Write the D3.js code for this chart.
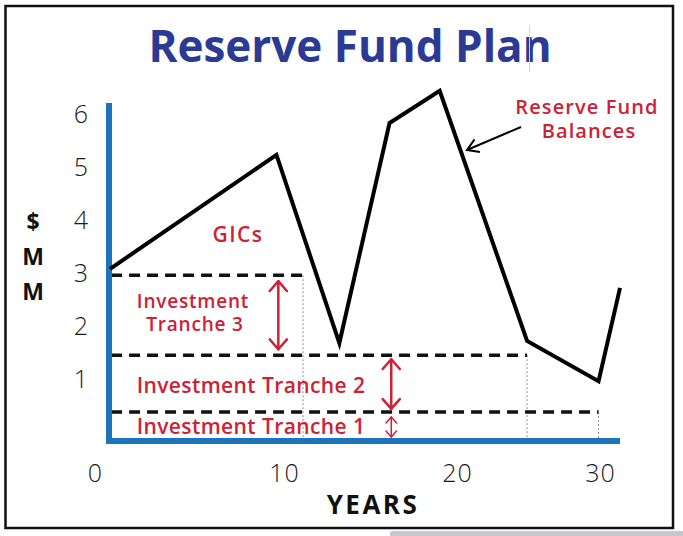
<!DOCTYPE html>
<html>
<head>
<meta charset="utf-8">
<script src="https://cdn.jsdelivr.net/npm/d3@7/dist/d3.min.js"></script>
<style>
  html, body { margin: 0; padding: 0; background: #fff; }
  svg { display: block; }
</style>
</head>
<body>
<div id="chart"></div>
<script>
// Chart values.
const xTicks = [0, 10, 20, 30];
const yTicks = [1, 2, 3, 4, 5, 6];
const years = [0.8, 9.6, 13.2, 16.1, 19.0, 24.9, 29.9, 31.4];
const balances = [3.06, 5.21, 1.66, 5.81, 6.42, 1.70, 0.94, 2.70];
const trancheNames = ['Investment Tranche 1', 'Investment Tranche 2', 'Investment Tranche 3'];
const trancheLevels = [0.36, 1.43, 2.94];
const trancheEnds = [29.9, 24.9, 11.1];
const trancheStart = 0.85;
const arrowYears = [16.2, 16.2, 9.7];

const width = 683, height = 536;
const blue = '#1c75bc', red = '#cc2236', navy = '#2b3a93';
const bodyFont = '"Open Sans", "Noto Sans", sans-serif';

// The year axis in the picture is not evenly spaced, so use a piecewise scale.
const x = d3.scaleLinear().domain(xTicks).range([95, 284, 457, 600]);
const y = d3.scaleLinear().domain([0, 6]).range([431, 113]);
const baseY = 441;

const svg = d3.select('#chart').append('svg')
  .attr('width', width)
  .attr('height', height);

// Outer frame and the scrollbar-ish strip at the bottom.
svg.append('rect')
  .attr('x', 5.5).attr('y', 6).attr('width', 667.5).attr('height', 522)
  .attr('fill', 'none').attr('stroke', '#111').attr('stroke-width', 2.5);
svg.append('rect')
  .attr('x', 390).attr('y', 531).attr('width', 300).attr('height', 6).attr('rx', 3)
  .attr('fill', '#c6c6cb');

svg.append('text')
  .attr('x', 350).attr('y', 62)
  .attr('text-anchor', 'middle')
  .attr('font-family', bodyFont)
  .attr('font-weight', 700)
  .attr('font-size', 44)
  .attr('fill', navy)
  .text('Reserve Fund Plan');
svg.append('line')
  .attr('x1', 529.5).attr('x2', 529.5).attr('y1', 25).attr('y2', 72)
  .attr('stroke', '#d4d4d4').attr('stroke-width', 1);

// Tick labels via d3 axes, with the domain path and tick marks hidden.
const xAxis = svg.append('g')
  .attr('transform', 'translate(0,482)')
  .call(d3.axisBottom(x).tickValues(xTicks).tickSize(0).tickPadding(0).tickFormat(d3.format('d')));
const yAxis = svg.append('g')
  .attr('transform', 'translate(81,0)')
  .call(d3.axisLeft(y).tickValues(yTicks).tickSize(0).tickPadding(0).tickFormat(d3.format('d')));
[xAxis, yAxis].forEach(g => {
  g.select('.domain').remove();
  g.selectAll('text')
    .attr('font-family', bodyFont)
    .attr('font-size', 25)
    .attr('font-weight', 300)
    .attr('fill', '#1a1a1a');
});
xAxis.selectAll('text').attr('dy', 0).attr('letter-spacing', 1);
yAxis.selectAll('text').attr('text-anchor', 'middle').attr('dy', '0.36em');

// Dotted guides dropping from each tranche end to the axis.
svg.selectAll('line.guide')
  .data(trancheLevels)
  .join('line')
  .attr('class', 'guide')
  .attr('x1', (d, i) => x(trancheEnds[i])).attr('x2', (d, i) => x(trancheEnds[i]))
  .attr('y1', d => y(d)).attr('y2', baseY)
  .attr('stroke', '#8a8a8a').attr('stroke-width', 1).attr('stroke-dasharray', '2,2');

// Dashed tranche boundaries.
svg.selectAll('line.tranche')
  .data(trancheLevels)
  .join('line')
  .attr('class', 'tranche')
  .attr('x1', x(trancheStart))
  .attr('x2', (d, i) => x(trancheEnds[i]))
  .attr('y1', d => y(d)).attr('y2', d => y(d))
  .attr('stroke', '#111').attr('stroke-width', 3.5).attr('stroke-dasharray', '11,7');

// Blue axes.
svg.append('line')
  .attr('x1', 109).attr('x2', 109).attr('y1', 103).attr('y2', baseY + 3)
  .attr('stroke', blue).attr('stroke-width', 6);
svg.append('line')
  .attr('x1', 106).attr('x2', 620).attr('y1', baseY).attr('y2', baseY)
  .attr('stroke', blue).attr('stroke-width', 6);

// Reserve fund balance line.
const line = d3.line().x(d => x(d[0])).y(d => y(d[1]));
svg.append('path')
  .datum(d3.zip(years, balances))
  .attr('d', line)
  .attr('fill', 'none')
  .attr('stroke', '#000')
  .attr('stroke-width', 4)
  .attr('stroke-linejoin', 'miter');

// Open V arrowhead pointing from (fx,fy) to tip (tx,ty).
function headPath(tx, ty, fx, fy, len, spread) {
  const a = Math.atan2(ty - fy, tx - fx);
  const p1 = [tx - len * Math.cos(a - spread), ty - len * Math.sin(a - spread)];
  const p2 = [tx - len * Math.cos(a + spread), ty - len * Math.sin(a + spread)];
  return `M${p1}L${tx},${ty}L${p2}`;
}

// Double arrows spanning each tranche.
const lowers = [baseY, y(trancheLevels[0]), y(trancheLevels[1])];
const arrowPads = [[5, 4], [4, 3], [6, 6]];
trancheLevels.forEach((level, i) => {
  const ax = x(arrowYears[i]);
  const top = y(level) + arrowPads[i][0];
  const bottom = lowers[i] - arrowPads[i][1];
  const small = i === 0;
  const len = small ? 8 : 13;
  const sw = small ? 1.5 : 2.5;
  const g = svg.append('g')
    .attr('stroke', red).attr('fill', 'none')
    .attr('stroke-width', sw).attr('stroke-linecap', 'round').attr('stroke-linejoin', 'round');
  g.append('line').attr('x1', ax).attr('x2', ax).attr('y1', top).attr('y2', bottom);
  g.append('path').attr('d', headPath(ax, top, ax, bottom, len, 0.72));
  g.append('path').attr('d', headPath(ax, bottom, ax, top, len, 0.72));
});

// Red annotations; two-line labels are one text element with tspans.
function redText(tx, ty, lines, size, spacing, lineGap) {
  const t = svg.append('text')
    .attr('text-anchor', 'middle')
    .attr('font-family', bodyFont)
    .attr('font-weight', 600)
    .attr('font-size', size)
    .attr('letter-spacing', spacing)
    .attr('fill', red);
  [].concat(lines).forEach((str, i) => {
    t.append('tspan')
      .attr('x', tx + (i ? 2 : 0))
      .attr('y', ty + i * (lineGap || 0))
      .text(str);
  });
}

redText(238, 242, 'GICs', 21, 1.5);
redText(193, 308, ['Investment', 'Tranche 3'], 19, 0.8, 23);
redText(251, 393, trancheNames[1], 21, 0.4);
redText(251, 434, trancheNames[0], 21, 0.4);
redText(587, 114, ['Reserve Fund', 'Balances'], 20, 1.1, 24);

// Pointer to the balance line.
const ptr = svg.append('g').attr('stroke', '#000').attr('fill', 'none').attr('stroke-width', 2);
ptr.append('line').attr('x1', 521).attr('y1', 127).attr('x2', 467).attr('y2', 150);
ptr.append('path').attr('d', headPath(467, 150, 521, 127, 13, 0.55));

// Axis titles.
['$', 'M', 'M'].forEach((ch, i) => {
  svg.append('text')
    .attr('x', 33).attr('y', 230 + i * 35)
    .attr('text-anchor', 'middle')
    .attr('font-family', bodyFont)
    .attr('font-weight', 700)
    .attr('font-size', 23)
    .attr('fill', '#111')
    .text(ch);
});
svg.append('text')
  .attr('x', 373).attr('y', 514)
  .attr('text-anchor', 'middle')
  .attr('font-family', bodyFont)
  .attr('font-weight', 700)
  .attr('font-size', 26)
  .attr('letter-spacing', 2.5)
  .attr('fill', '#111')
  .text('YEARS');
</script>
</body>
</html>
